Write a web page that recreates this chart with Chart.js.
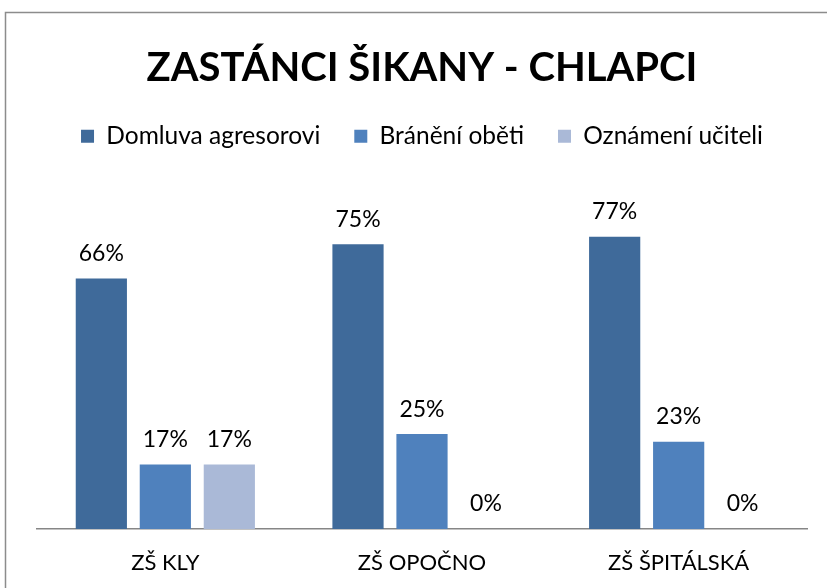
<!DOCTYPE html>
<html><head><meta charset="utf-8">
<script src="https://cdn.jsdelivr.net/npm/chart.js@4"></script>
<style>html,body{margin:0;padding:0;background:#fff}#wrap{width:827px;height:588px;position:relative}</style>
</head><body><div id="wrap"><canvas id="c" width="827" height="588"></canvas></div>
<script>
const categories = ["ZŠ KLY", "ZŠ OPOČNO", "ZŠ ŠPITÁLSKÁ"];
const seriesNames = ["Domluva agresorovi", "Bránění oběti", "Oznámení učiteli"];
const domluva = [66, 75, 77];
const braneni = [17, 25, 23];
const oznameni = [17, 0, 0];
const colors = ["#3F6A9A", "#4F81BD", "#AAB9D7"];
const FONT = "Lato, 'Open Sans', sans-serif";

const frame = {
  id: 'frame',
  beforeDraw(chart) {
    const ctx = chart.ctx;
    ctx.save();
    ctx.fillStyle = '#fff';
    ctx.fillRect(0, 0, chart.width, chart.height);
    ctx.strokeStyle = '#8c8c8c';
    ctx.lineWidth = 1.5;
    ctx.beginPath();
    ctx.moveTo(5.5, 600);
    ctx.lineTo(5.5, 12.5);
    ctx.lineTo(840, 12.5);
    ctx.stroke();
    ctx.restore();
  }
};
const labelsPlugin = {
  id: 'vals',
  afterDatasetsDraw(chart) {
    const ctx = chart.ctx;
    ctx.save();
    ctx.font = "23px " + FONT;
    ctx.fillStyle = '#000';
    ctx.textAlign = 'center';
    ctx.textBaseline = 'middle';
    chart.data.datasets.forEach((ds, i) => {
      chart.getDatasetMeta(i).data.forEach((bar, j) => {
        ctx.fillText(ds.data[j] + '%', bar.x, bar.y - 25);
      });
    });
    ctx.restore();
  }
};

new Chart(document.getElementById('c'), {
  type: 'bar',
  data: {
    labels: categories,
    datasets: [
      { label: seriesNames[0], data: domluva, backgroundColor: colors[0] },
      { label: seriesNames[1], data: braneni, backgroundColor: colors[1] },
      { label: seriesNames[2], data: oznameni, backgroundColor: colors[2] }
    ]
  },
  options: {
    responsive: false,
    animation: false,
    events: [],
    datasets: { bar: { categoryPercentage: 0.748, barPercentage: 0.8 } },
    layout: { padding: { left: 37, right: 20, top: 20, bottom: -9 } },
    plugins: {
      title: {
        display: true,
        text: "ZASTÁNCI ŠIKANY - CHLAPCI",
        color: '#000',
        font: { family: FONT, size: 40, weight: 'bold', lineHeight: 1.1 },
        padding: { top: 26, bottom: 0 }
      },
      legend: {
        display: true,
        labels: {
          color: '#000',
          font: { family: FONT, size: 24.5 },
          boxWidth: 13, boxHeight: 13,
          padding: 34
        }
      },
      tooltip: { enabled: false }
    },
    scales: {
      x: {
        grid: { display: false, drawTicks: false },
        border: { display: true, color: '#868686', width: 1.5 },
        ticks: { color: '#000', font: { family: FONT, size: 22, lineHeight: 1 }, padding: 23 }
      },
      y: {
        display: false,
        min: 0, max: 97.6
      }
    }
  },
  plugins: [frame, labelsPlugin]
});
</script></body></html>
